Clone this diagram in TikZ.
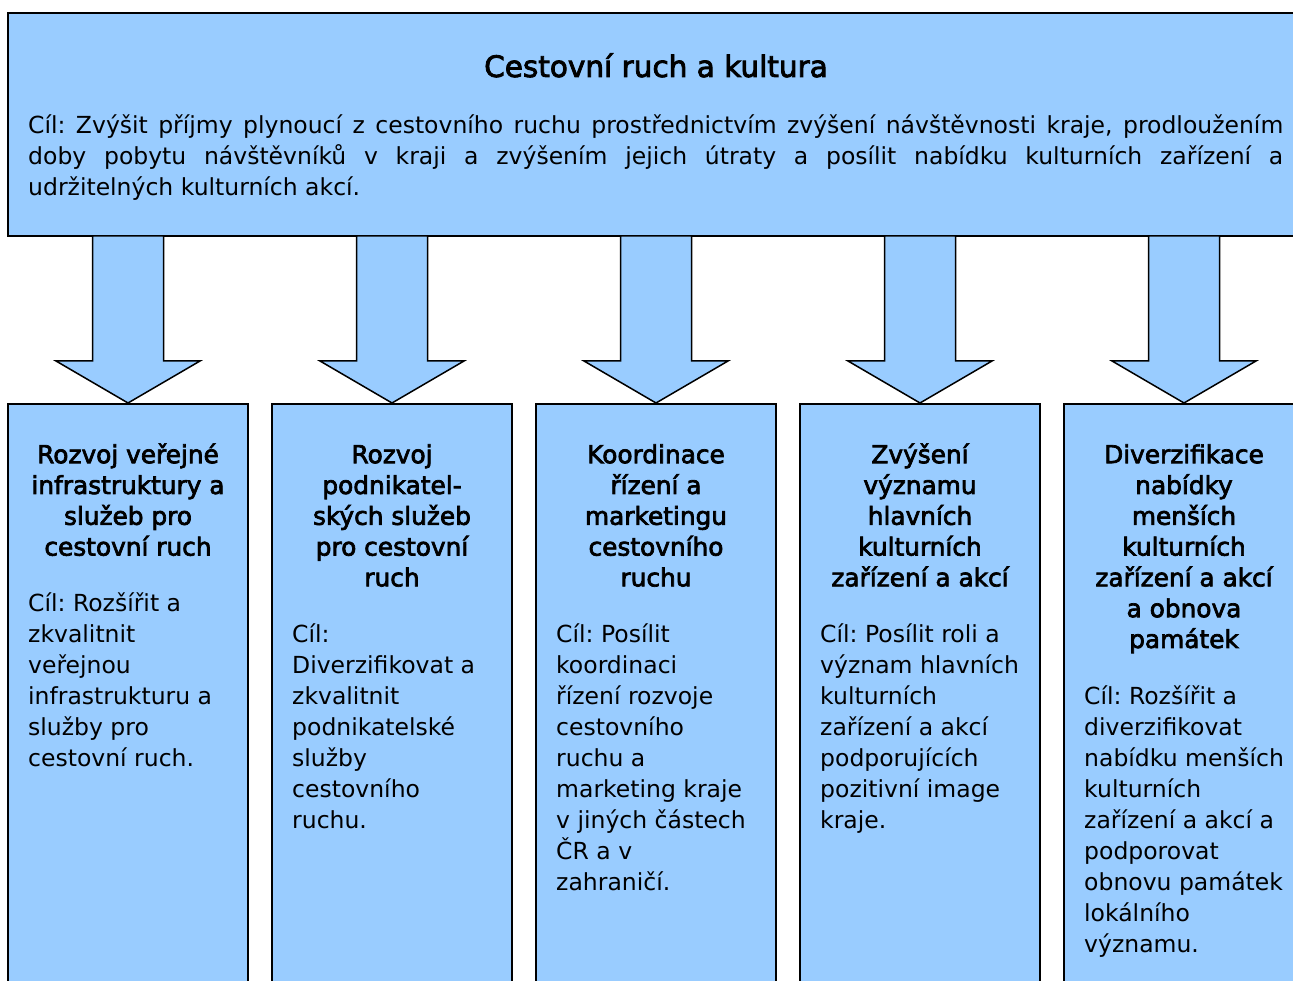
\documentclass[tikz,border=0pt]{standalone}
\usepackage{fontspec}
\setmainfont{DejaVu Sans}
\newfontfamily\semib{DejaVu Sans}[FakeBold=2.8]
\usetikzlibrary{calc}
\definecolor{boxblue}{HTML}{99CCFF}
\newcommand\jl[1]{\makebox[1255pt][s]{#1}}
\frenchspacing
\begin{document}
\begin{tikzpicture}[x=1pt,y=1pt,
  panel/.style={draw=black, line width=1.5pt, fill=boxblue, inner sep=0pt, outer sep=0pt},
  arr/.style={draw=black, line width=1.5pt, fill=boxblue, line join=miter},
  bodytxt/.style={inner sep=0pt, anchor=north west, align=left, font=\fontsize{23.5}{31}\selectfont},
  headtxt/.style={inner sep=0pt, anchor=north, align=center, font=\semib\fontsize{24.8}{30.8}\selectfont},
  titletxt/.style={inner sep=0pt, anchor=base, font=\semib\fontsize{29.5}{32}\selectfont}
]
\useasboundingbox (0,0) rectangle (1293,980);
\clip (0,0) rectangle (1293,980);
\node[panel, anchor=north west, minimum width=1296pt, minimum height=223pt] (top) at (8,967) {};
\foreach \i/\cx in {1/128,2/392,3/656,4/920,5/1184}{
  \node[panel, anchor=north, minimum width=240pt, minimum height=600pt] (b\i) at (\cx,576) {};
}
\foreach \i in {1,...,5}{
  \draw[arr] ($(b\i.north)+(0,1)$) -- ++(-72,42) -- ++(36.5,0) -- ++(0,125) -- ++(71,0) -- ++(0,-125) -- ++(36.5,0) -- cycle;
}
\node[titletxt] (title) at (656,903) {Cestovní ruch a kultura};
\node[bodytxt] (goal) at (28,869) {\rule{0pt}{22pt}\jl{Cíl: Zvýšit příjmy plynoucí z cestovního ruchu prostřednictvím zvýšení návštěvnosti kraje, prodloužením}\\
\jl{doby pobytu návštěvníků v kraji a zvýšením jejich útraty a posílit nabídku kulturních zařízení a}\\
udržitelných kulturních akcí.};

\node[headtxt] (h1) at (128,539) {\rule{0pt}{22pt}Rozvoj veřejné\\infrastruktury a\\služeb pro\\cestovní ruch};
\node[bodytxt] (t1) at (28,390.5) {\rule{0pt}{22pt}Cíl: Rozšířit a\\zkvalitnit\\veřejnou\\infrastrukturu a\\služby pro\\cestovní ruch.};

\node[headtxt] (h2) at (392,539) {\rule{0pt}{22pt}Rozvoj\\podnikatel-\\ských služeb\\pro cestovní\\ruch};
\node[bodytxt] (t2) at (292,359.5) {\rule{0pt}{22pt}Cíl:\\Diverzifikovat a\\zkvalitnit\\podnikatelské\\služby\\cestovního\\ruchu.};

\node[headtxt] (h3) at (656,539) {\rule{0pt}{22pt}Koordinace\\řízení a\\marketingu\\cestovního\\ruchu};
\node[bodytxt] (t3) at (556,359.5) {\rule{0pt}{22pt}Cíl: Posílit\\koordinaci\\řízení rozvoje\\cestovního\\ruchu a\\marketing kraje\\v jiných částech\\ČR a v\\zahraničí.};

\node[headtxt] (h4) at (920,539) {\rule{0pt}{22pt}Zvýšení\\významu\\hlavních\\kulturních\\zařízení a akcí};
\node[bodytxt] (t4) at (820,359.5) {\rule{0pt}{22pt}Cíl: Posílit roli a\\význam hlavních\\kulturních\\zařízení a akcí\\podporujících\\pozitivní image\\kraje.};

\node[headtxt] (h5) at (1184,539) {\rule{0pt}{22pt}Diverzifikace\\nabídky\\menších\\kulturních\\zařízení a akcí\\a obnova\\památek};
\node[bodytxt] (t5) at (1084,298) {\rule{0pt}{22pt}Cíl: Rozšířit a\\diverzifikovat\\nabídku menších\\kulturních\\zařízení a akcí a\\podporovat\\obnovu památek\\lokálního\\významu.};
\end{tikzpicture}
\end{document}
